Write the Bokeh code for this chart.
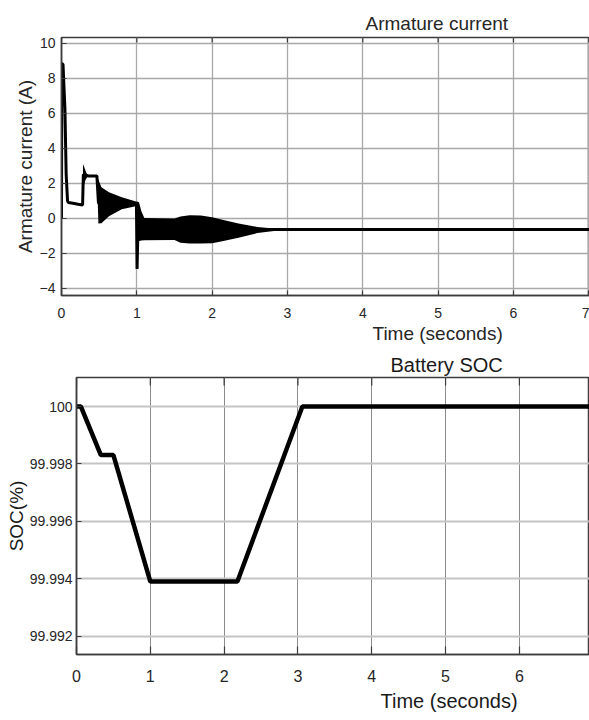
from math import pi
from bokeh.plotting import figure
from bokeh.models import Title, FixedTicker, Range1d
from bokeh.embed import file_html
from bokeh.resources import INLINE

# ---------------- data: armature current ----------------
cur_t = [0.0, 0.004, 0.02, 0.045, 0.062, 0.08, 0.09, 0.15, 0.22, 0.28, 0.29, 0.36, 0.47,
         0.49, 0.53, 0.75, 0.995, 1.003, 1.012, 1.03, 1.3, 1.6, 1.8, 2.1, 2.4, 2.7,
         3.0, 4.0, 5.0, 6.0, 7.01]
cur_v = [0.0, 8.85, 8.8, 6.3, 2.5, 1.0, 0.9, 0.86, 0.8, 0.76, 2.5, 2.42, 2.42,
         0.9, 0.75, 0.75, 0.8, -2.9, -1.2, -0.6, -0.6, -0.62, -0.65, -0.66, -0.66, -0.65,
         -0.65, -0.64, -0.65, -0.64, -0.65]

# oscillation envelopes (upper / lower)
bandA_t = [0.285, 0.30, 0.32, 0.34, 0.36]
bandA_hi = [3.1, 2.95, 2.7, 2.5, 2.44]
bandA_lo = [1.7, 1.95, 2.2, 2.35, 2.4]

bandB_t = [0.47, 0.49, 0.53, 0.63, 0.8, 1.0]
bandB_hi = [2.42, 2.2, 1.77, 1.49, 1.2, 0.95]
bandB_lo = [2.42, -0.3, -0.28, 0.12, 0.52, 0.7]

bandC_t = [1.0, 1.03, 1.06, 1.1, 1.5, 1.58, 1.7, 1.85, 2.0, 2.15, 2.35, 2.6, 2.85, 3.0]
bandC_hi = [0.97, 0.9, 0.4, 0.02, -0.02, 0.1, 0.17, 0.15, 0.05, -0.1, -0.3, -0.5, -0.6, -0.62]
bandC_lo = [-1.3, -1.3, -1.28, -1.26, -1.25, -1.4, -1.45, -1.45, -1.43, -1.3, -1.12, -0.85, -0.72, -0.68]

# ---------------- data: battery SOC ----------------
soc_t = [0.0, 0.06, 0.33, 0.5, 1.0, 2.18, 3.06, 7.0]
soc_v = [100.0, 100.0, 99.99831, 99.99831, 99.99391, 99.99391, 100.0, 100.0]

x_ticks = [0, 1, 2, 3, 4, 5, 6, 7]
cur_y_ticks = [-4, -2, 0, 2, 4, 6, 8, 10]
soc_y_ticks = [99.992, 99.994, 99.996, 99.998, 100.0]
soc_y_labels = ["99.992", "99.994", "99.996", "99.998", "100"]

CUR_X = (0, 7.01)
CUR_Y = (-4.42, 10.34)
SOC_X = (0, 6.95)
SOC_Y = (99.99137, 100.00101)

FRAME = "#3c3c3c"
TXT = "#262626"
REG = "Liberation Sans"


def style_axes(ax, size, standoff, tick_in=5):
    ax.major_tick_in = tick_in
    ax.major_tick_out = 0
    ax.minor_tick_line_color = None
    ax.axis_line_color = FRAME
    ax.axis_line_width = 1.5
    ax.major_tick_line_color = FRAME
    ax.major_tick_line_width = 1.2
    ax.major_label_text_font = REG
    ax.major_label_text_font_size = size
    ax.major_label_text_color = TXT
    ax.major_label_standoff = standoff


# ================= top figure =================
p1 = figure(width=589, height=344, output_backend="svg", toolbar_location=None,
            x_range=Range1d(*CUR_X), y_range=Range1d(*CUR_Y),
            min_border_left=61, min_border_right=0, min_border_top=37, min_border_bottom=49)
p1.outline_line_color = FRAME
p1.outline_line_width = 1.5
p1.border_fill_color = "white"

p1.xaxis.ticker = FixedTicker(ticks=x_ticks)
p1.yaxis.ticker = FixedTicker(ticks=cur_y_ticks)
style_axes(p1.xaxis[0], "14px", 12)
style_axes(p1.yaxis[0], "14px", 6)
p1.yaxis.axis_label = "Armature current (A)"
p1.yaxis.axis_label_text_font = REG
p1.yaxis.axis_label_text_font_size = "19px"
p1.yaxis.axis_label_text_font_style = "normal"
p1.yaxis.axis_label_text_color = TXT
p1.yaxis.axis_label_standoff = 1

p1.xgrid.grid_line_color = "#a8a8a8"
p1.ygrid.grid_line_color = "#a8a8a8"
p1.xgrid.grid_line_width = 1.3
p1.ygrid.grid_line_width = 1.3

# inward tick marks along the top edge of the box
p1.ray(x=x_ticks, y=[CUR_Y[1]] * len(x_ticks), length=5, length_units="screen",
       angle=-pi / 2, line_color=FRAME, line_width=1.2)

p1.add_layout(Title(text="Armature current", align="left", offset=304, text_font=REG,
                    text_font_size="19px", text_font_style="normal", text_color=TXT,
                    standoff=7), "above")
p1.add_layout(Title(text="Time (seconds)", align="left", offset=311, text_font=REG,
                    text_font_size="19px", text_font_style="normal", text_color=TXT,
                    standoff=0), "below")

for bt, bh, bl in [(bandA_t, bandA_hi, bandA_lo), (bandB_t, bandB_hi, bandB_lo),
                   (bandC_t, bandC_hi, bandC_lo)]:
    p1.varea(x=bt, y1=bl, y2=bh, fill_color="black")
p1.line(cur_t, cur_v, line_color="black", line_width=3)

# ================= bottom figure =================
p2 = figure(width=589, height=376, output_backend="svg", toolbar_location=None,
            x_range=Range1d(*SOC_X), y_range=Range1d(*SOC_Y),
            min_border_left=76, min_border_right=0, min_border_top=33, min_border_bottom=66)
p2.outline_line_color = FRAME
p2.outline_line_width = 1.5
p2.border_fill_color = "white"

p2.xaxis.ticker = FixedTicker(ticks=x_ticks)
p2.yaxis.ticker = FixedTicker(ticks=soc_y_ticks)
p2.yaxis.major_label_overrides = dict(zip(soc_y_ticks, soc_y_labels))
style_axes(p2.xaxis[0], "16px", 15, tick_in=8)
style_axes(p2.yaxis[0], "14px", 4)
p2.yaxis.axis_label = "SOC(%)"
p2.yaxis.axis_label_text_font = REG
p2.yaxis.axis_label_text_font_size = "19px"
p2.yaxis.axis_label_text_font_style = "normal"
p2.yaxis.axis_label_text_color = "#1a1a1a"
p2.yaxis.axis_label_standoff = 0

p2.xgrid.grid_line_color = "#8c8c8c"
p2.xgrid.grid_line_width = 1
p2.ygrid.grid_line_color = "#c4c4c4"
p2.ygrid.grid_line_width = 2

p2.ray(x=x_ticks, y=[SOC_Y[1]] * len(x_ticks), length=8, length_units="screen",
       angle=-pi / 2, line_color=FRAME, line_width=1.2)

p2.add_layout(Title(text="Battery SOC", align="left", offset=314, text_font=REG,
                    text_font_size="20px", text_font_style="normal", text_color="#1a1a1a",
                    standoff=3), "above")
p2.add_layout(Title(text="Time (seconds)", align="left", offset=304, text_font=REG,
                    text_font_size="20px", text_font_style="normal", text_color="#1a1a1a",
                    standoff=6), "below")

p2.line(soc_t, soc_v, line_color="black", line_width=4.5)

open("out.html", "w").write(file_html([p1, p2], INLINE))
